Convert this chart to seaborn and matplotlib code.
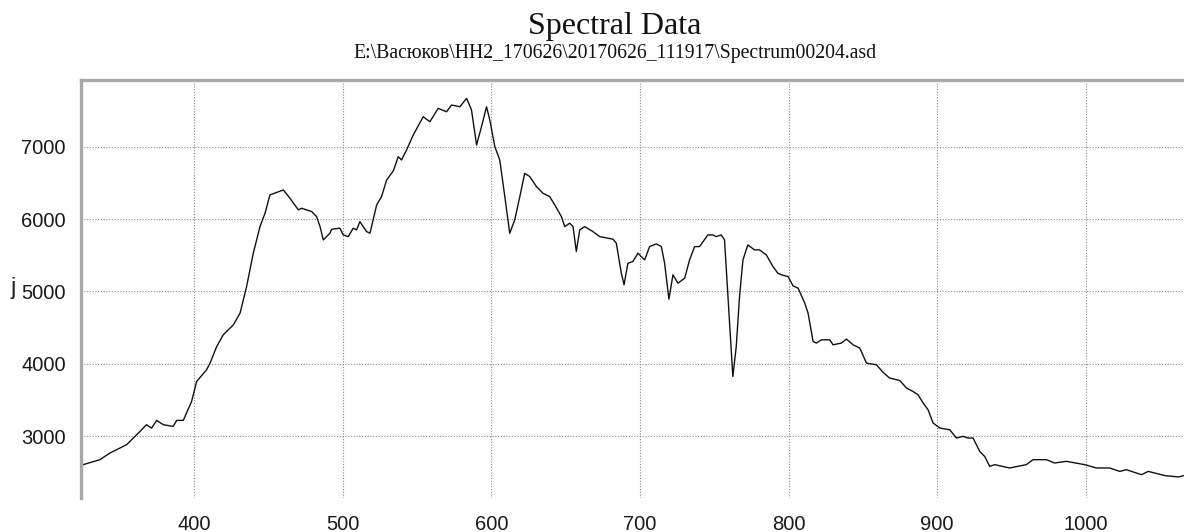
import matplotlib
matplotlib.use("Agg")
import matplotlib.pyplot as plt
import seaborn as sns
import pandas as pd

wavelength = [
    325.5, 336.7, 343.5, 354.7, 363.7, 368.0, 371.5, 374.9, 379.4, 386.0,
    388.4, 392.8, 395.0, 398.4, 401.8, 408.5, 410.8, 415.3, 419.7, 426.5,
    431.0, 435.4, 439.9, 444.4, 447.8, 451.1, 460.1, 464.6, 470.2, 472.4,
    479.2, 482.5, 484.8, 487.0, 491.5, 492.6, 498.2, 500.4, 503.8, 507.1,
    509.4, 511.6, 516.1, 518.4, 522.9, 526.2, 529.6, 534.1, 537.4, 539.6,
    543.0, 547.5, 554.2, 558.7, 564.3, 569.9, 573.3, 578.9, 583.4, 586.7,
    590.1, 593.4, 596.8, 599.0, 602.4, 605.7, 609.1, 612.4, 615.8, 619.2,
    622.5, 625.9, 630.4, 634.8, 639.3, 642.7, 647.2, 649.4, 652.8, 655.0,
    657.2, 659.5, 662.8, 668.4, 672.9, 681.9, 684.1, 687.5, 689.3, 691.9,
    695.3, 698.7, 700.9, 703.2, 706.5, 711.0, 714.4, 716.6, 718.8, 719.5,
    722.2, 725.6, 730.1, 733.4, 736.8, 740.1, 745.7, 749.1, 751.3, 754.7,
    756.9, 759.2, 761.4, 762.5, 764.8, 767.0, 769.3, 772.6, 777.1, 780.5,
    785.0, 789.5, 792.8, 795.2, 799.7, 803.0, 806.4, 810.9, 813.1, 816.5,
    818.7, 822.1, 827.7, 829.9, 835.5, 838.9, 843.4, 847.9, 852.4, 859.1,
    863.6, 868.0, 874.8, 879.3, 883.7, 887.1, 890.5, 893.8, 897.2, 901.7,
    908.4, 912.9, 917.4, 920.7, 924.1, 928.6, 931.9, 935.3, 938.7, 948.7,
    959.9, 964.4, 973.4, 979.0, 986.9, 999.2, 1007.1, 1016.0, 1022.8, 1027.3,
    1037.4, 1041.9, 1053.3, 1062.3, 1065.7,
]
intensity = [
    2604, 2673, 2765, 2880, 3064, 3156, 3110, 3216, 3156, 3133,
    3216, 3216, 3318, 3478, 3754, 3916, 4008, 4238, 4399, 4537,
    4699, 5066, 5528, 5895, 6080, 6333, 6402, 6287, 6126, 6149,
    6103, 6033, 5895, 5711, 5804, 5859, 5873, 5780, 5757, 5873,
    5850, 5964, 5826, 5804, 6195, 6310, 6540, 6665, 6862, 6816,
    6954, 7161, 7414, 7345, 7530, 7483, 7576, 7552, 7668, 7507,
    7023, 7276, 7552, 7369, 7000, 6816, 6310, 5804, 5988, 6310,
    6632, 6586, 6448, 6356, 6310, 6195, 6033, 5895, 5942, 5895,
    5550, 5850, 5895, 5826, 5757, 5721, 5666, 5251, 5090, 5389,
    5412, 5528, 5480, 5435, 5619, 5656, 5619, 5389, 5021, 4892,
    5228, 5113, 5182, 5435, 5619, 5619, 5780, 5780, 5757, 5780,
    5711, 4928, 4192, 3823, 4238, 4928, 5435, 5642, 5573, 5573,
    5504, 5343, 5251, 5228, 5204, 5076, 5044, 4837, 4699, 4307,
    4285, 4330, 4330, 4261, 4285, 4340, 4261, 4215, 4008, 3985,
    3879, 3801, 3768, 3663, 3616, 3570, 3456, 3364, 3180, 3110,
    3087, 2972, 2995, 2972, 2972, 2787, 2718, 2580, 2604, 2558,
    2604, 2673, 2673, 2627, 2650, 2604, 2558, 2558, 2511, 2534,
    2465, 2511, 2452, 2434, 2452,
]
x_ticks = [400, 500, 600, 700, 800, 900, 1000]
y_ticks = [3000, 4000, 5000, 6000, 7000]
title = "Spectral Data"
subtitle = "E:\\Васюков\\HH2_170626\\20170626_111917\\Spectrum00204.asd"

sns.set_theme(style="white")
plt.rcParams["font.family"] = ["Liberation Sans", "DejaVu Sans"]

df = pd.DataFrame({"wavelength": wavelength, "intensity": intensity})

fig = plt.figure(figsize=(11.84, 5.32), dpi=100)
ax = fig.add_axes([81 / 1184, 1 - 498 / 532, 1 - 81 / 1184 + 0.01, (498 - 80) / 532])

sns.lineplot(data=df, x="wavelength", y="intensity", ax=ax, color="#111111",
             linewidth=1.0, sort=False, estimator=None)

ax.set_xlim(324.0, 1066.0 + 0.01 * 1184 / 1.4867)
ax.set_ylim(2143, 7922)
ax.set_xticks(x_ticks)
ax.set_yticks(y_ticks)
ax.set_xticklabels([str(v) for v in x_ticks])
ax.set_yticklabels([str(v) for v in y_ticks])
ax.set_xlabel("")
ax.set_ylabel("")
ax.grid(True, color="#8a8a8a", linestyle=(0, (1, 1.5)), linewidth=0.8)

for side in ("right", "bottom"):
    ax.spines[side].set_visible(False)
for side in ("top", "left"):
    ax.spines[side].set_color("#a8a8a8")
    ax.spines[side].set_linewidth(2.4)

ax.tick_params(axis="both", which="major", direction="out", length=6, width=1,
               color="#e6e6e6", labelsize=14.5, labelcolor="#1a1a1a")
ax.tick_params(axis="x", pad=6)
ax.tick_params(axis="y", pad=5)

fig.text(615 / 1184, 1 - 34 / 532, title, ha="center", va="baseline",
         family=["Liberation Serif", "DejaVu Serif"], fontsize=23, color="#111111")
fig.text(615 / 1184, 1 - 58 / 532, subtitle, ha="center", va="baseline",
         family=["Liberation Serif", "DejaVu Serif"], fontsize=14.2, color="#111111")
fig.text(13 / 1184, 1 - 288 / 532, "j", ha="center", va="center",
         fontsize=17, color="#222222")

fig.savefig("out.png", dpi=100)
